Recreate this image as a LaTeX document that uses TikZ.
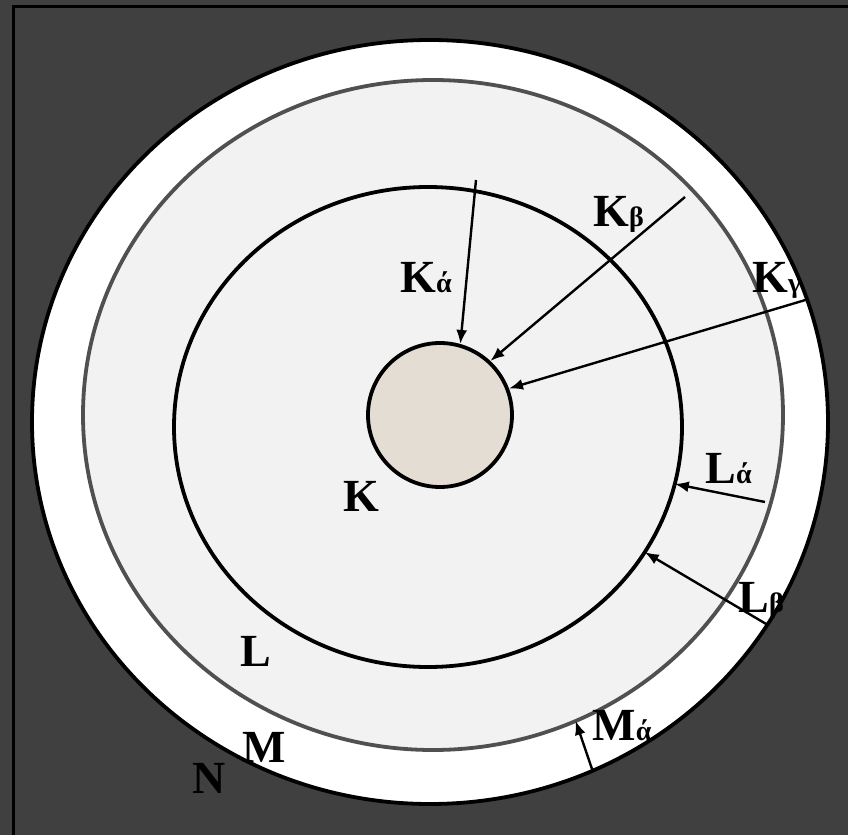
\documentclass[tikz,border=0pt]{standalone}
\usepackage{fontspec}
\setmainfont{Liberation Serif}
\usetikzlibrary{arrows.meta, shapes.geometric, positioning}
\definecolor{bgdark}{HTML}{404040}
\definecolor{shellgray}{HTML}{505050}
\definecolor{lfill}{HTML}{F2F2F2}
\definecolor{nucfill}{HTML}{E3DDD3}

\tikzset{
  shell/.style={ellipse, inner sep=0pt, outer sep=0pt, line width=1.9pt},
  jump/.style={line width=1.2pt, -{Latex[length=7pt,width=5.5pt]}},
  lbl/.style={anchor=base west, inner sep=0pt, font=\bfseries\fontsize{23}{23}\selectfont},
}
\newcommand{\sublbl}[1]{{\fontsize{14}{14}\selectfont #1}}

\begin{document}
\begin{tikzpicture}[x=0.5pt, y=-0.5pt]
  \useasboundingbox (0,0) rectangle (848,835);
  \clip (0,0) rectangle (848,835);
  \fill[bgdark] (0,0) rectangle (848,835);
  \draw[line width=1.5pt] (13,6) rectangle (880,880);

  % shells
  \node[shell, draw=black, fill=white, minimum width=398pt, minimum height=382pt] (shellM) at (430,422) {};
  \node[shell, draw=shellgray, fill=lfill, minimum width=350pt, minimum height=335pt] (shellL) at (433,415) {};
  \node[shell, draw=black, minimum width=254pt, minimum height=240pt] (shellK) at (428,427) {};
  \node[circle, draw=black, fill=nucfill, line width=1.9pt, inner sep=0pt, minimum size=72pt] (nucleus) at (440,415) {};

  % free ends
  \coordinate (kastart) at (476,180);
  \coordinate (kbstart) at (685,197);
  \coordinate (lastart) at (765,502);

  % transitions
  \draw[jump] (kastart) -- (nucleus.74);
  \draw[jump] (kbstart) -- (nucleus.47);
  \draw[jump] (shellM.18.4) -- (nucleus.21);
  \draw[jump] (lastart) -- (shellK.-13.8);
  \draw[jump] (shellM.-31.7) -- (shellK.-30.8);
  \draw[jump] (shellM.-65.6) -- (shellL.-65.2);

  % labels
  \node[lbl] (lka) at (400,292) {K\sublbl{ά}};
  \node[lbl] (lkb) at (593,227) {K\sublbl{β}};
  \node[lbl] (lkg) at (752,292) {K\sublbl{γ}};
  \node[lbl] (lla) at (705,483) {L\sublbl{ά}};
  \node[lbl] (llb) at (738,612) {L\sublbl{β}};
  \node[lbl] (lma) at (592,740) {M\sublbl{ά}};
  \node[lbl] (rk) at (343,511) {K};
  \node[lbl] (rl) at (240,666) {L};
  \node[lbl] (rm) at (242,762) {M};
  \node[lbl] (rn) at (192,793) {N};
\end{tikzpicture}
\end{document}
